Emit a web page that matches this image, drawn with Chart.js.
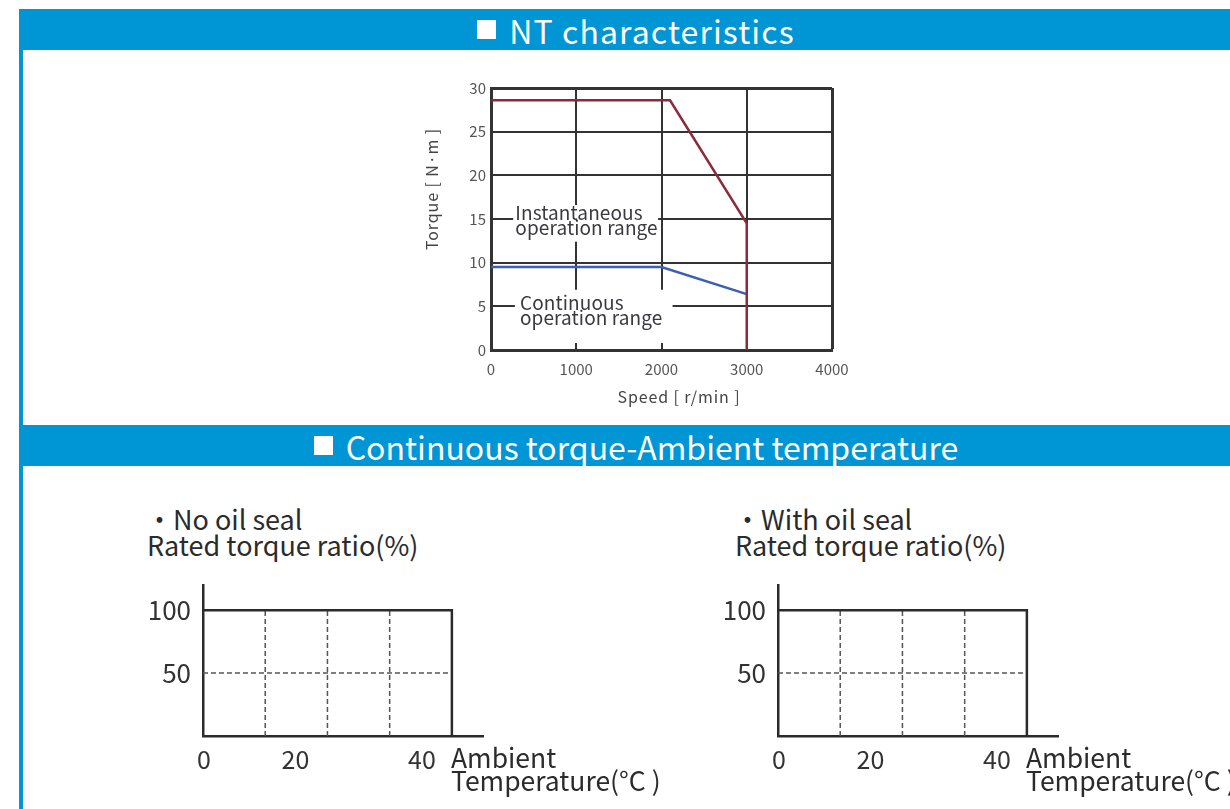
<!DOCTYPE html>
<html>
<head>
<meta charset="utf-8">
<script src="https://cdn.jsdelivr.net/npm/chart.js@4.4.1/dist/chart.umd.min.js"></script>
<style>
  body { margin: 0; width: 1230px; height: 809px; overflow: hidden; background: #fff; position: relative;
         font-family: "Noto Sans CJK JP", "Noto Sans", sans-serif; color: #2b2b2b; }
  .edge { position: absolute; left: 19px; top: 9px; width: 4px; height: 800px; background: #0096d6; }
  .bar { position: absolute; left: 19px; width: 1211px; height: 41px; background: #0096d6; }
  .bar .txt { position: absolute; left: 23px; right: 0; top: 0; height: 41px; display: flex; align-items: center;
              justify-content: center; color: #fff; font-size: 32px; white-space: nowrap; }
  .sq { display: inline-block; width: 19px; height: 19px; background: #fff; margin-right: 13px; }
  .box { position: absolute; }
  .cap { position: absolute; font-size: 27px; line-height: 26px; white-space: nowrap; }
  .amb { position: absolute; font-size: 26.5px; line-height: 23px; white-space: nowrap; }
</style>
</head>
<body>
<div class="edge"></div>
<div class="bar" style="top:9px"><div class="txt" style="letter-spacing:1.1px"><span class="sq"></span>NT characteristics</div></div>
<div class="bar" style="top:425px"><div class="txt"><span class="sq"></span>Continuous torque-Ambient temperature</div></div>

<div class="box" style="left:400px;top:75px"><canvas id="ntChart" width="460" height="340"></canvas></div>

<div class="cap" style="left:146px;top:506px">・No oil seal</div>
<div class="cap" style="left:147px;top:532px">Rated torque ratio(%)</div>
<div class="cap" style="left:734px;top:506px">・With oil seal</div>
<div class="cap" style="left:735px;top:532px">Rated torque ratio(%)</div>

<div class="box" style="left:130px;top:570px"><canvas id="noSealChart" width="380" height="239"></canvas></div>
<div class="box" style="left:705px;top:570px"><canvas id="withSealChart" width="380" height="239"></canvas></div>

<div class="amb" style="left:451px;top:745px">Ambient<br>Temperature(°C )</div>
<div class="amb" style="left:1026px;top:745px">Ambient<br>Temperature(°C )</div>

<script>
// NT characteristics
const instSpeed = [0, 2100, 3000, 3000];
const instTorque = [28.6, 28.6, 14.5, 0];
const contSpeed = [0, 2000, 3000];
const contTorque = [9.5, 9.5, 6.4];
const speedTicks = [0, 1000, 2000, 3000, 4000];
const torqueTicks = [0, 5, 10, 15, 20, 25, 30];
const rangeLabels = [["Instantaneous", "operation range"], ["Continuous", "operation range"]];

// Continuous torque - ambient temperature
const tempC = [0, 40, 40];
const ratioNoSeal = [100, 100, 0];
const ratioWithSeal = [100, 100, 0];
const tempTicks = [0, 20, 40];
const ratioTicks = [50, 100];
const tempGridLines = [10, 20, 30];
const ratioGridLines = [50];

const FONT = '"Noto Sans CJK JP", "Noto Sans", sans-serif';

function toPoints(xs, ys) {
  return xs.map((x, i) => ({ x: x, y: ys[i] }));
}

// keep the plot area where the layout padding puts it
function noLabelPadding(s) {
  s.paddingTop = 0;
  s.paddingBottom = 0;
}

// white boxes + range labels + axis titles for the NT chart
const ntDecor = {
  id: "ntDecor",
  beforeDatasetsDraw(chart, args, opts) {
    const { ctx, scales: { x, y } } = chart;
    ctx.save();
    opts.labels.forEach((l, i) => {
      const x0 = x.getPixelForValue(l.box[0]), x1 = x.getPixelForValue(l.box[1]);
      const y0 = y.getPixelForValue(l.box[3]), y1 = y.getPixelForValue(l.box[2]);
      ctx.fillStyle = "#fff";
      ctx.fillRect(x0, y0, x1 - x0, y1 - y0);
      ctx.fillStyle = "#3a3840";
      ctx.font = "19px " + FONT;
      ctx.letterSpacing = "0.1px";
      ctx.textBaseline = "alphabetic";
      ctx.textAlign = "left";
      const tx = x.getPixelForValue(l.at[0]), ty = y.getPixelForValue(l.at[1]);
      rangeLabels[i].forEach((line, j) => ctx.fillText(line, tx, ty + j * 15));
    });
    ctx.restore();
  },
  afterDraw(chart) {
    const { ctx, chartArea: a } = chart;
    ctx.save();
    ctx.fillStyle = "#444";
    ctx.font = "16px " + FONT;
    ctx.letterSpacing = "0.9px";
    ctx.textAlign = "center";
    ctx.textBaseline = "middle";
    ctx.fillText("Speed [ r/min ]", a.left + 188, a.bottom + 47);
    ctx.translate(a.left - 59, a.top + 101);
    ctx.rotate(-Math.PI / 2);
    ctx.fillText("Torque [ N·m ]", 0, 0);
    ctx.restore();
  }
};

new Chart(document.getElementById("ntChart"), {
  type: "line",
  data: {
    datasets: [
      { data: toPoints(instSpeed, instTorque), borderColor: "#8c2a3a", borderWidth: 2.5 },
      { data: toPoints(contSpeed, contTorque), borderColor: "#3b5fb4", borderWidth: 2.5 }
    ]
  },
  options: {
    responsive: false,
    animation: false,
    layout: { padding: { top: 13, right: 28, left: 0, bottom: 0 } },
    elements: { point: { radius: 0 }, line: { tension: 0, borderJoinStyle: "miter" } },
    plugins: {
      legend: { display: false },
      tooltip: { enabled: false },
      ntDecor: {
        labels: [
          { box: [260, 1960, 12.4, 16.6], at: [285, 14.9] },
          { box: [280, 2130, 0.8, 6.9], at: [340, 4.6] }
        ]
      }
    },
    scales: {
      x: {
        type: "linear", min: 0, max: 4000,
        afterBuildTicks: s => { s.ticks = speedTicks.map(v => ({ value: v })); },
        afterFit: s => { s.height = 65; },
        grid: { color: "#333", lineWidth: c => (c.tick && c.tick.value === 4000 ? 3 : 2), drawTicks: false },
        border: { color: "#333", width: 3 },
        ticks: { color: "#555", font: { family: FONT, size: 15 }, padding: 10, maxRotation: 0,
                 callback: v => String(v) }
      },
      y: {
        type: "linear", min: 0, max: 30,
        afterBuildTicks: s => { s.ticks = torqueTicks.map(v => ({ value: v })); },
        afterFit: s => { s.width = 91; noLabelPadding(s); },
        grid: { color: "#333", lineWidth: c => (c.tick && c.tick.value === 30 ? 3 : 2), drawTicks: false },
        border: { color: "#333", width: 3 },
        ticks: { color: "#555", font: { family: FONT, size: 15 }, padding: 5, callback: v => String(v) }
      }
    }
  },
  plugins: [ntDecor]
});

// dashed grid inside the 100% box + shifted x labels
const tempDecor = {
  id: "tempDecor",
  beforeDatasetsDraw(chart, args, opts) {
    const { ctx, scales: { x, y } } = chart;
    const boxX = Math.max(...tempC), boxY = Math.max(...opts.ratios);
    ctx.save();
    ctx.strokeStyle = "#555";
    ctx.lineWidth = 1.5;
    ctx.setLineDash([5, 3]);
    tempGridLines.forEach(t => {
      ctx.beginPath();
      ctx.moveTo(x.getPixelForValue(t), y.getPixelForValue(0));
      ctx.lineTo(x.getPixelForValue(t), y.getPixelForValue(boxY));
      ctx.stroke();
    });
    ratioGridLines.forEach(r => {
      ctx.beginPath();
      ctx.moveTo(x.getPixelForValue(0), y.getPixelForValue(r));
      ctx.lineTo(x.getPixelForValue(boxX), y.getPixelForValue(r));
      ctx.stroke();
    });
    ctx.restore();
  },
  afterDraw(chart, args, opts) {
    const { ctx, scales: { x } } = chart;
    ctx.save();
    ctx.fillStyle = "#333";
    ctx.font = "25px " + FONT;
    ctx.textAlign = "center";
    ctx.textBaseline = "middle";
    tempTicks.forEach((t, i) => {
      ctx.fillText(String(t), x.getPixelForValue(t) + opts.shift[i], x.top + 23);
    });
    ctx.restore();
  }
};

function makeTempChart(id, ratios) {
  return new Chart(document.getElementById(id), {
    type: "line",
    data: { datasets: [{ data: toPoints(tempC, ratios), borderColor: "#2b2b2b", borderWidth: 2.5 }] },
    options: {
      responsive: false,
      animation: false,
      layout: { padding: { top: 15, right: 27, left: 0, bottom: 0 } },
      elements: { point: { radius: 0 }, line: { tension: 0, borderJoinStyle: "miter" } },
      plugins: {
        legend: { display: false },
        tooltip: { enabled: false },
        tempDecor: { ratios: ratios, shift: [1, -32, -30] }
      },
      scales: {
        x: {
          type: "linear", min: 0, max: 45,
          afterFit: s => { s.height = 73; },
          grid: { display: false },
          border: { color: "#2b2b2b", width: 2.5 },
          ticks: { display: false }
        },
        y: {
          type: "linear", min: 0, max: 120,
          afterBuildTicks: s => { s.ticks = ratioTicks.map(v => ({ value: v })); },
          afterFit: s => { s.width = 73; noLabelPadding(s); },
          grid: { display: false },
          border: { color: "#2b2b2b", width: 2.5 },
          ticks: { color: "#333", font: { family: FONT, size: 26 }, padding: 4 }
        }
      }
    },
    plugins: [tempDecor]
  });
}

makeTempChart("noSealChart", ratioNoSeal);
makeTempChart("withSealChart", ratioWithSeal);
</script>
</body>
</html>
